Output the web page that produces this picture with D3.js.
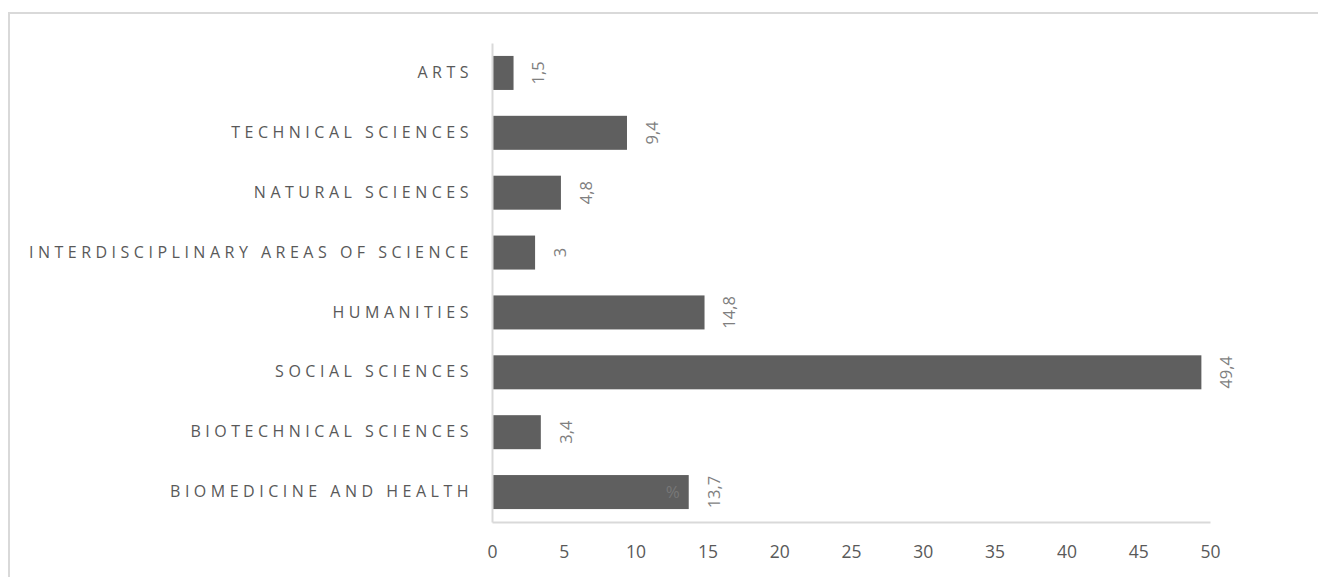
<!DOCTYPE html>
<html>
<head>
<meta charset="utf-8">
<script src="https://cdn.jsdelivr.net/npm/d3@7"></script>
<style>
  html, body { margin: 0; padding: 0; background: #fff; }
  svg { display: block; }
</style>
</head>
<body>
<svg id="chart" width="1318" height="577"></svg>
<script>
const categories = [
  "ARTS",
  "TECHNICAL SCIENCES",
  "NATURAL SCIENCES",
  "INTERDISCIPLINARY AREAS OF SCIENCE",
  "HUMANITIES",
  "SOCIAL SCIENCES",
  "BIOTECHNICAL SCIENCES",
  "BIOMEDICINE AND HEALTH"
];
const values = [1.5, 9.4, 4.8, 3, 14.8, 49.4, 3.4, 13.7];
const valueLabels = ["1,5", "9,4", "4,8", "3", "14,8", "49,4", "3,4", "13,7"];
const xTicks = [0, 5, 10, 15, 20, 25, 30, 35, 40, 45, 50];

const svg = d3.select("#chart");

// outer chart border
svg.append("rect")
  .attr("x", 9).attr("y", 13)
  .attr("width", 1320).attr("height", 580)
  .attr("fill", "none")
  .attr("stroke", "#d9d9d9")
  .attr("stroke-width", 2);

const plotLeft = 492, plotRight = 1210, plotTop = 43, plotBottom = 522;

const x = d3.scaleLinear().domain([0, 50]).range([plotLeft, plotRight]);
const y = d3.scaleBand().domain(categories).range([plotTop, plotBottom]).paddingInner(0.432).paddingOuter(0.216);

// bars
svg.append("g").selectAll("rect")
  .data(categories)
  .join("rect")
  .attr("x", x(0))
  .attr("y", d => y(d))
  .attr("width", (d, i) => x(values[i]) - x(0))
  .attr("height", y.bandwidth())
  .attr("fill", "#5f5f5f");

// x axis
const xAxis = svg.append("g")
  .attr("transform", `translate(0,${plotBottom})`)
  .call(d3.axisBottom(x).tickValues(xTicks).tickSize(0).tickPadding(24));
xAxis.select(".domain").attr("stroke", "#d9d9d9").attr("stroke-width", 2);
xAxis.selectAll("text")
  .attr("fill", "#595959")
  .style("font-family", "'Open Sans', 'Noto Sans', sans-serif")
  .style("font-size", "17.5px");

// y axis
const yAxis = svg.append("g")
  .attr("transform", `translate(${plotLeft},0)`)
  .call(d3.axisLeft(y).tickSize(0).tickPadding(19));
yAxis.select(".domain").attr("stroke", "#d9d9d9").attr("stroke-width", 2);
yAxis.selectAll("text")
  .attr("fill", "#595959")
  .style("font-family", "'Open Sans', 'Noto Sans', sans-serif")
  .style("font-size", "16px")
  .style("letter-spacing", "4.5px");

// data labels (rotated)
svg.append("g").selectAll("text")
  .data(categories)
  .join("text")
  .attr("transform", (d, i) => `translate(${x(values[i]) + 25},${y(d) + y.bandwidth() / 2}) rotate(-90)`)
  .attr("text-anchor", "middle")
  .attr("dy", "0.35em")
  .attr("fill", "#7f7f7f")
  .style("font-family", "'Open Sans', 'Noto Sans', sans-serif")
  .style("font-size", "16.5px")
  .text((d, i) => valueLabels[i]);

// stray percent sign in last bar
const lastCat = categories[categories.length - 1];
svg.append("text")
  .attr("x", x(values[values.length - 1]) - 16)
  .attr("y", y(lastCat) + y.bandwidth() / 2)
  .attr("dy", "0.35em")
  .attr("text-anchor", "middle")
  .attr("fill", "#777777")
  .style("font-family", "'Open Sans', 'Noto Sans', sans-serif")
  .style("font-size", "17px")
  .text("%");
</script>
</body>
</html>
